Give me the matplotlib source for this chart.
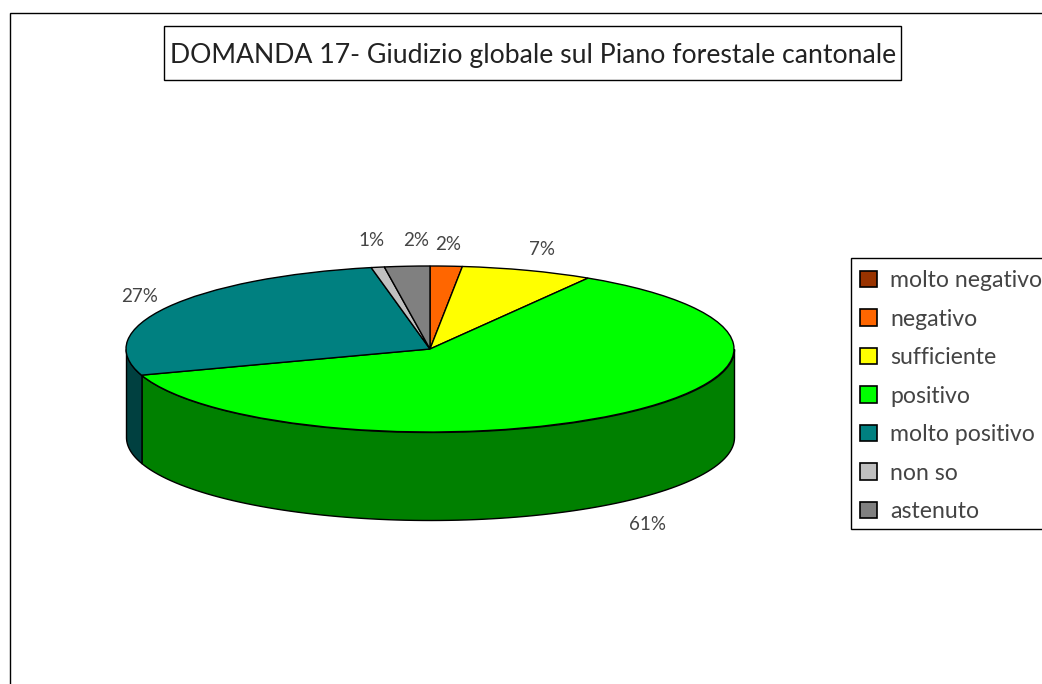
import numpy as np
import matplotlib
matplotlib.use('Agg')
import matplotlib.pyplot as plt
from matplotlib.patches import Patch, Rectangle

titolo = 'DOMANDA 17- Giudizio globale sul Piano forestale cantonale'
categorie = ['molto negativo', 'negativo', 'sufficiente', 'positivo',
             'molto positivo', 'non so', 'astenuto']
valori = [0, 1.7, 7.0, 61.2, 27.0, 0.7, 2.4]
colori = ['#993300', '#FF6600', '#FFFF00', '#00FF00', '#008080', '#C0C0C0', '#808080']
colori_lato = ['#4D1A00', '#803300', '#808000', '#008000', '#004040', '#606060', '#404040']

W, H = 1042, 684
plt.rcParams['font.family'] = ['Lato', 'DejaVu Sans']
testo = '#444444'

fig = plt.figure(figsize=(W/100, H/100), dpi=100)

# cornice del grafico, esce dal foglio a destra e in basso
fig.add_artist(Rectangle((10/W, -0.1), 1.1, 1 - 13/H + 0.1, transform=fig.transFigure,
                         fc='white', ec='black', lw=1, zorder=-1))

# torta: ellisse centrata a (430,349) px, raggi 304x83, spessore 88 px
cx, cy, rx, ry, spess = 430, 349, 304, 83, 88
ax = fig.add_axes([(cx-rx)/W, 1-(cy+ry+spess)/H, 2*rx/W, (2*ry+spess)/H])
prof = spess/ry

cum = np.cumsum([0] + valori) / np.sum(valori) * 360
for i in range(len(valori)):
    a = max(cum[i], 90)
    b = min(cum[i+1], 270)
    if b > a:
        th = np.radians(np.linspace(a, b, 100))
        ax.fill_between(np.sin(th), np.cos(th), np.cos(th)-prof,
                        facecolor=colori_lato[i], edgecolor='black', lw=1)

ax.pie(valori, colors=colori, startangle=90, counterclock=False, radius=1, frame=True,
       wedgeprops={'edgecolor': 'black', 'linewidth': 1})
ax.set_aspect('auto')
ax.set_xlim(-1, 1)
ax.set_ylim(-1-prof, 1)
ax.axis('off')
for art in ax.patches + ax.collections:
    art.set_clip_on(False)

# etichette percentuali
pos_etichette = [None, (448, 245), (542, 250), (647, 524), (140, 296), (372, 241), (416, 241)]
tot = np.sum(valori)
for v, p in zip(valori, pos_etichette):
    if p is not None:
        fig.text(p[0]/W, 1-p[1]/H, '%.0f%%' % (v/tot*100), ha='center', va='center',
                 fontsize=13.5, color=testo)

# titolo
fig.add_artist(Rectangle((164/W, 1-80/H), 737/W, 54/H, transform=fig.transFigure,
                         fc='white', ec='black', lw=1, zorder=-1))
fig.text(533/W, 1-56/H, titolo, ha='center', va='center', fontsize=19.2, color='#222222')

# legenda: riquadro a parte, esce dal foglio a destra
fig.add_artist(Rectangle((851/W, 1-529/H), 0.3, 271/H, transform=fig.transFigure,
                         fc='white', ec='black', lw=1, zorder=-1))
handles = [Patch(facecolor=c, edgecolor='black', linewidth=1.2) for c in colori]
fig.legend(handles, categorie, loc='upper left', bbox_to_anchor=(860/W, 1-270/H),
           bbox_transform=fig.transFigure, fontsize=16.6, frameon=False,
           borderaxespad=0, borderpad=0,
           handlelength=0.72, handleheight=0.72, handletextpad=0.58, labelspacing=0.76,
           labelcolor=testo)

fig.savefig('out.png', dpi=100)
